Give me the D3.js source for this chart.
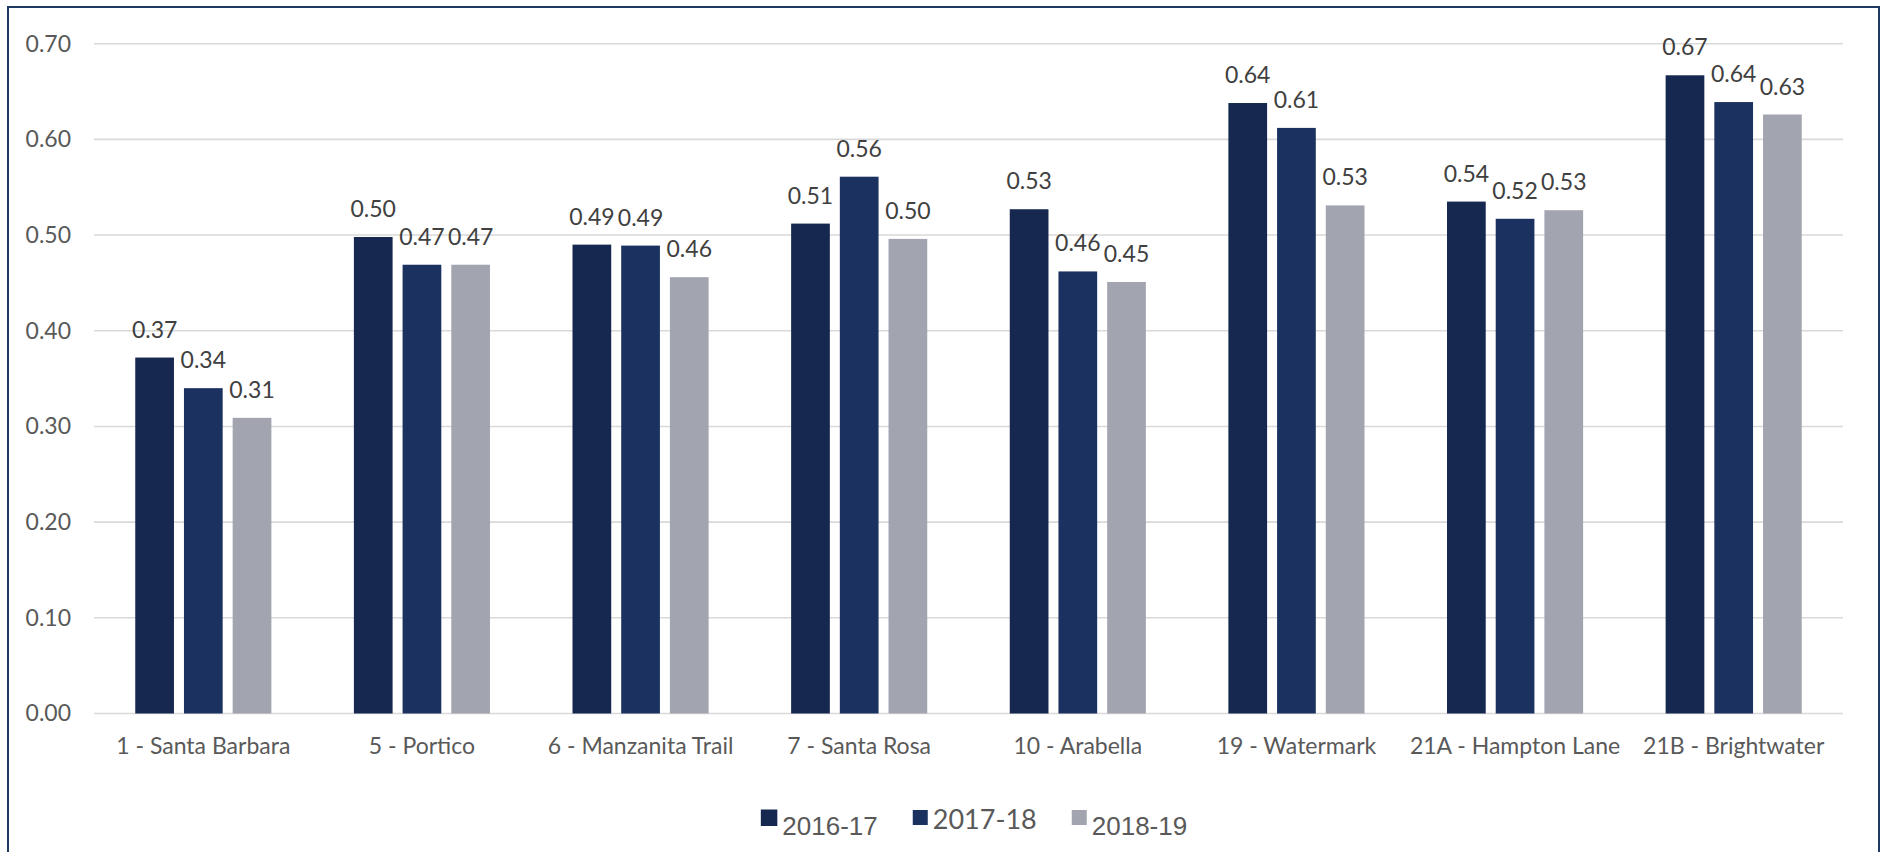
<!DOCTYPE html>
<html>
<head>
<meta charset="utf-8">
<script src="https://cdn.jsdelivr.net/npm/d3@7"></script>
<style>
  body { margin: 0; background: #fff; }
  svg { display: block; }
</style>
</head>
<body>
<div id="chart"></div>
<script>
// chart data
const categories = ["1 - Santa Barbara", "5 - Portico", "6 - Manzanita Trail", "7 - Santa Rosa",
  "10 - Arabella", "19 - Watermark", "21A - Hampton Lane", "21B - Brightwater"];
const seriesNames = ["2016-17", "2017-18", "2018-19"];
const values2016 = [0.372, 0.498, 0.490, 0.512, 0.527, 0.638, 0.535, 0.667];
const values2017 = [0.340, 0.469, 0.489, 0.561, 0.462, 0.612, 0.517, 0.639];
const values2018 = [0.309, 0.469, 0.456, 0.496, 0.451, 0.531, 0.526, 0.626];
const yTicks = [0, 0.1, 0.2, 0.3, 0.4, 0.5, 0.6, 0.7];

const colors = ["#16284f", "#1b315f", "#a2a5b0"];
const allValues = [values2016, values2017, values2018];

const width = 1887, height = 852;
const margin = {left: 94, right: 44, top: 43.7, bottom: 138.5};
const fontSize = 23;

const svg = d3.select("#chart").append("svg")
  .attr("width", width)
  .attr("height", height);

svg.append("rect")
  .attr("width", width).attr("height", height)
  .attr("fill", "#fff");

// outer frame (bottom edge runs off the picture)
svg.append("rect")
  .attr("x", 8).attr("y", 7)
  .attr("width", 1871).attr("height", 900)
  .attr("fill", "none")
  .attr("stroke", "#203864")
  .attr("stroke-width", 2);

const x0 = d3.scaleBand()
  .domain(categories)
  .range([margin.left, width - margin.right]);

const x1 = d3.scaleBand()
  .domain(seriesNames)
  .range([0, x0.bandwidth()])
  .paddingInner(0.205)
  .paddingOuter(0.847);

const y = d3.scaleLinear()
  .domain([0, 0.7])
  .range([height - margin.bottom, margin.top]);

// gridlines
svg.append("g")
  .selectAll("line")
  .data(yTicks)
  .join("line")
  .attr("x1", margin.left)
  .attr("x2", width - margin.right)
  .attr("y1", d => y(d))
  .attr("y2", d => y(d))
  .attr("stroke", "#d9d9d9")
  .attr("stroke-width", 1.6);

// y axis labels
const yAxis = svg.append("g")
  .attr("transform", `translate(${margin.left - 23},0)`)
  .call(d3.axisLeft(y).tickValues(yTicks).tickFormat(d3.format(".2f")).tickSize(0));
yAxis.select(".domain").remove();
yAxis.selectAll("text")
  .attr("x", 0)
  .attr("font-family", "Lato, sans-serif")
  .attr("font-size", fontSize)
  .attr("fill", "#595959");

// x axis labels
const xAxis = svg.append("g")
  .attr("transform", `translate(0,${y(0)})`)
  .call(d3.axisBottom(x0).tickSize(0));
xAxis.select(".domain").remove();
xAxis.selectAll("text")
  .attr("y", 0)
  .attr("dy", 0)
  .attr("transform", "translate(0,40)")
  .attr("font-family", "Lato, sans-serif")
  .attr("font-size", fontSize)
  .attr("fill", "#595959");

// bars
const groups = svg.append("g")
  .selectAll("g")
  .data(categories)
  .join("g")
  .attr("transform", d => `translate(${x0(d)},0)`);

groups.selectAll("rect")
  .data((c, i) => seriesNames.map((s, k) => ({series: s, k: k, value: allValues[k][i]})))
  .join("rect")
  .attr("x", d => x1(d.series))
  .attr("width", x1.bandwidth())
  .attr("y", d => y(d.value))
  .attr("height", d => y(0) - y(d.value))
  .attr("fill", d => colors[d.k]);

groups.selectAll("text")
  .data((c, i) => seriesNames.map((s, k) => ({series: s, k: k, value: allValues[k][i]})))
  .join("text")
  .attr("x", d => x1(d.series) + x1.bandwidth() / 2)
  .attr("y", d => y(d.value) - 20)
  .attr("text-anchor", "middle")
  .attr("font-family", "Lato, sans-serif")
  .attr("font-size", fontSize)
  .attr("fill", "#404040")
  .text(d => d3.format(".2f")(d.value));

// legend
const legend = svg.append("g");
let lx = 0;
seriesNames.forEach(function(name, i) {
  let item = legend.append("g").attr("transform", `translate(${lx},0)`);
  let sq = i == 0 ? 16.5 : 15;
  item.append("rect")
    .attr("x", 0)
    .attr("y", i == 0 ? 809.5 : 810)
    .attr("width", sq)
    .attr("height", sq)
    .attr("fill", colors[i]);
  let t = item.append("text")
    .attr("x", sq + 5)
    .attr("y", i == 1 ? 828.5 : 835)
    .attr("font-family", i == 1 ? "Lato, sans-serif" : "'Liberation Sans', Arial, sans-serif")
    .attr("font-size", i == 1 ? 27 : 26)
    .attr("fill", "#595959")
    .text(name);
  lx += sq + 5 + t.node().getComputedTextLength() + 35;
});
const legendWidth = lx - 35;
legend.attr("transform", `translate(${974 - legendWidth / 2},0)`);
</script>
</body>
</html>
